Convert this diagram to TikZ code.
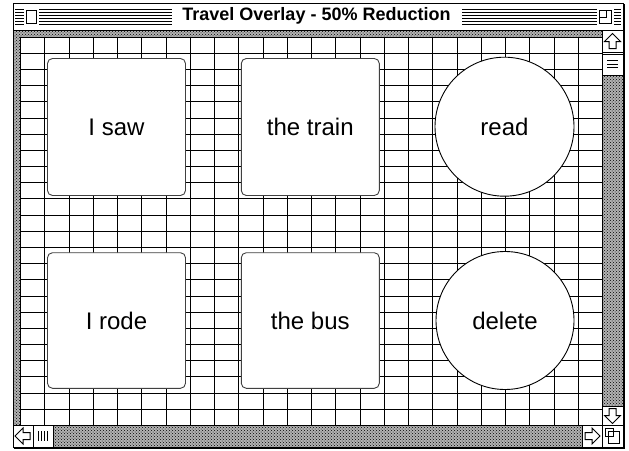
\documentclass[tikz,border=0pt]{standalone}
\usepackage{fontspec}
\setmainfont{Liberation Sans}
\usetikzlibrary{patterns}
\tikzset{
  card/.style={shape=rectangle, rounded corners=5pt, draw=black!75, fill=white, line width=0.9pt, minimum width=138pt, minimum height=137pt, font=\fontsize{24}{28}\selectfont},
  disc/.style={shape=circle, draw=black, fill=white, line width=0.9pt, minimum size=139pt, inner sep=0pt, font=\fontsize{24}{28}\selectfont},
  stipple/.style={fill=black!30, postaction={pattern=crosshatch dots, pattern color=black}},
  arrowglyph/.pic={\draw[line width=1pt, fill=white] (0,-8) -- (8,0) -- (3.5,0) -- (3.5,7) -- (-3.5,7) -- (-3.5,0) -- (-8,0) -- cycle;}
}
\begin{document}
\begin{tikzpicture}[x=1pt, y=-1pt, line width=1pt]
\useasboundingbox (0,0) rectangle (629,450);
\fill[white] (0,0) rectangle (629,450);
\foreach \k in {0,...,5} {
  \draw (15,9.5+3*\k) -- (172,9.5+3*\k);
  \draw (462,9.5+3*\k) -- (621,9.5+3*\k);
}
\fill[white] (24,8) rectangle (39,26);
\draw (26.5,10.5) rectangle (36.5,23.5);
\fill[white] (597,8) rectangle (614,26);
\draw (599.5,10.5) rectangle (611.5,23.5);
\draw (599.5,10.5) rectangle (606,17);
\node[font=\bfseries\fontsize{18}{20}\selectfont, inner sep=0pt] (title) at (316.5,16) {Travel Overlay - 50\% Reduction};
\fill[stipple] (13,30) rectangle (602,36.5);
\fill[stipple] (13,36.5) rectangle (20,425);
\foreach \i in {0,...,24}
  \draw[line width=1.1pt] ({round(20+24.25*\i)+0.5},36.5) -- ({round(20+24.25*\i)+0.5},425);
\foreach \j in {0,...,24}
  \draw[line width=1.1pt] (20,{round(36.7+16.18*\j)+0.5}) -- (602,{round(36.7+16.18*\j)+0.5});
\node[card] (saw) at (116.5,127) {I saw};
\node[card] (train) at (310.3,127) {the train};
\node[disc] (read) at (504.5,126.7) {read};
\node[card, minimum height=135.6pt] (rode) at (116.5,320.5) {I rode};
\node[card, minimum height=135.6pt] (bus) at (310.3,320.5) {the bus};
\node[disc, minimum size=138pt] (delete) at (505,320.5) {delete};
\fill[stipple] (602,75) rectangle (623,406);
\fill[stipple] (53,425) rectangle (582,447);
\draw (602.5,30) -- (602.5,425);
\draw (13,425.5) -- (623,425.5);
\draw[fill=white] (602.5,30.5) rectangle (623,52.5);
\draw[fill=white] (602.5,54.5) rectangle (623,75.5);
\foreach \k in {0,1,2}
  \draw (607,60.5+3.5*\k) -- (618,60.5+3.5*\k);
\draw[fill=white] (602.5,406.5) rectangle (623,425.5);
\draw[fill=white] (13,425.5) rectangle (33.5,447);
\draw[fill=white] (33.5,425.5) rectangle (53.5,447);
\foreach \k in {0,...,3}
  \draw (38.5+3*\k,431) -- (38.5+3*\k,441);
\draw[fill=white] (582.5,425.5) rectangle (602.5,447);
\draw[fill=white] (602.5,425.5) rectangle (623,447);
\draw (605.5,428.5) rectangle (613,436);
\draw[fill=white] (608.5,431.5) rectangle (619.5,443.5);
\draw (605.5,428.5) rectangle (613,436);
\pic at (612.5,41.5) {arrowglyph};
\pic[rotate=180] at (612.5,415.5) {arrowglyph};
\pic[rotate=90] at (23,436) {arrowglyph};
\pic[rotate=-90] at (592,436) {arrowglyph};
\draw (13,30.5) -- (623,30.5);
\draw (13.5,3.5) rectangle (623,447);
\draw[line width=2pt] (624,4) -- (624,448) -- (14,448);
\end{tikzpicture}
\end{document}
